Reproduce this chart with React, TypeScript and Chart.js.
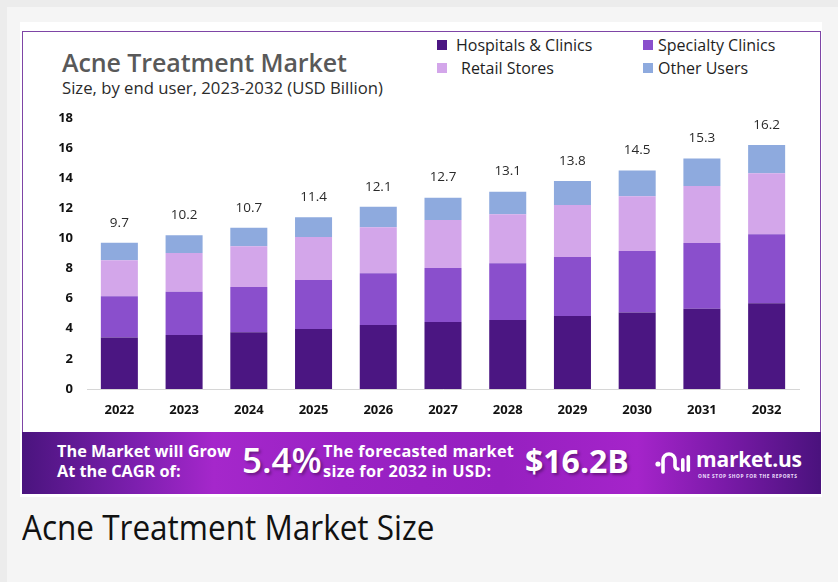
import React, { useEffect, useRef } from "react";
import { Chart, registerables } from "chart.js";
Chart.register(...registerables);

const years = ["2022", "2023", "2024", "2025", "2026", "2027", "2028", "2029", "2030", "2031", "2032"];
const hospitals = [3.41, 3.58, 3.76, 3.98, 4.25, 4.45, 4.58, 4.85, 5.07, 5.33, 5.69];
const specialty = [2.74, 2.88, 3.01, 3.26, 3.43, 3.58, 3.77, 3.91, 4.09, 4.36, 4.58];
const retail = [2.4, 2.57, 2.7, 2.85, 3.05, 3.19, 3.25, 3.46, 3.63, 3.79, 4.05];
const other = [1.15, 1.17, 1.23, 1.31, 1.37, 1.48, 1.5, 1.58, 1.71, 1.82, 1.88];
const totals = ["9.7", "10.2", "10.7", "11.4", "12.1", "12.7", "13.1", "13.8", "14.5", "15.3", "16.2"];
const seriesNames = ["Hospitals & Clinics", "Specialty Clinics", "Retail Stores", "Other Users"];
const seriesColors = ["#4b1682", "#8a4fcc", "#d3a6ea", "#8eaade"];
const yMin = 0;
const yMax = 18;
const yStep = 2;

const totalsPlugin = {
  id: "totals",
  afterDatasetsDraw(chart: any) {
    const ctx = chart.ctx;
    const last = chart.getDatasetMeta(chart.data.datasets.length - 1);
    ctx.save();
    ctx.font = "400 13.5px 'Open Sans'";
    ctx.fillStyle = "#2a2a2a";
    ctx.textAlign = "center";
    ctx.textBaseline = "middle";
    last.data.forEach((bar: any, i: number) => {
      ctx.fillText(totals[i], bar.x, bar.y - 20);
    });
    ctx.restore();
  },
};

function BarChart() {
  const ref = useRef<HTMLCanvasElement | null>(null);
  useEffect(() => {
    if (!ref.current) return;
    const data = [hospitals, specialty, retail, other];
    const chart = new Chart(ref.current, {
      type: "bar",
      data: {
        labels: years,
        datasets: data.map((d, i) => ({
          label: seriesNames[i],
          data: d,
          backgroundColor: seriesColors[i],
          borderWidth: 0,
          categoryPercentage: 1,
          barPercentage: 0.572,
        })),
      },
      options: {
        animation: false,
        responsive: false,
        maintainAspectRatio: false,
        layout: { padding: { top: 13, right: 22, left: 0, bottom: 0 } },
        plugins: { legend: { display: false }, tooltip: { enabled: false } },
        scales: {
          x: {
            stacked: true,
            grid: { display: false, drawTicks: false },
            border: { display: true, color: "#d6d6d6", width: 1 },
            ticks: { color: "#111", font: { family: "'Open Sans'", weight: "bold", size: 13 }, padding: 13 },
            afterFit: (s: any) => { s.height = 41; },
          },
          y: {
            stacked: true,
            min: yMin,
            max: yMax,
            grid: { display: false, drawTicks: false },
            border: { display: false },
            ticks: { stepSize: yStep, color: "#111", font: { family: "'Open Sans'", weight: "bold", size: 13 }, padding: 14 },
            afterFit: (s: any) => { s.width = 65; },
          },
        },
      },
      plugins: [totalsPlugin],
    });
    return () => chart.destroy();
  }, []);
  return <canvas ref={ref} width={799} height={334} style={{ position: "absolute", left: 22, top: 96, width: 799, height: 334 }} />;
}

const abs = (o: any) => ({ position: "absolute" as const, ...o });

export default function App() {
  const legendItems = [
    { x: 437, y: 45, tx: 456 },
    { x: 643, y: 45, tx: 658 },
    { x: 437, y: 68, tx: 461 },
    { x: 643, y: 68, tx: 658 },
  ];
  return (
    <div style={abs({ left: 0, top: 0, width: 838, height: 582, background: "#ececec", overflow: "hidden", fontFamily: "'Open Sans', sans-serif" })}>
      <div style={abs({ left: 7, top: 7, width: 831, height: 575, background: "#f5f5f5" })} />
      <div style={abs({ left: 20, top: 22, width: 802, height: 475, background: "#ffffff" })} />
      <div style={abs({ left: 22, top: 31, width: 799, height: 401, border: "1.5px solid #7e45a6", borderBottom: "none", boxSizing: "border-box" })} />
      <div style={abs({ left: 62, top: 46, fontSize: 25, fontWeight: 600, color: "#595959", lineHeight: "32px", whiteSpace: "nowrap", letterSpacing: "-0.1px" })}>Acne Treatment Market</div>
      <div style={abs({ left: 62, top: 77, fontSize: 16.7, fontWeight: 400, color: "#2b2b2b", lineHeight: "22px", whiteSpace: "nowrap" })}>Size, by end user, 2023-2032 (USD Billion)</div>
      {legendItems.map((it, i) => (
        <React.Fragment key={i}>
          <div style={abs({ left: it.x, top: it.y - 5, width: 10, height: 10, background: seriesColors[i] })} />
          <div style={abs({ left: it.tx, top: it.y - 12, fontSize: 16, color: "#1e1e1e", lineHeight: "24px", whiteSpace: "nowrap" })}>{seriesNames[i]}</div>
        </React.Fragment>
      ))}
      <BarChart />
      <div style={abs({ left: 22, top: 432, width: 799, height: 62, background: "linear-gradient(90deg, #4a147e 0%, #7c1fae 14%, #a527cb 24%, #9a22c4 40%, #9620c0 60%, #a524ca 77%, #7a1aa8 88%, #4a127d 100%)" })} />
      <div style={abs({ left: 57, top: 441, fontSize: 16.3, fontWeight: 700, color: "#fff", lineHeight: "20px", whiteSpace: "nowrap" })}>The Market will Grow<br />At the CAGR of:</div>
      <div style={abs({ left: 242, top: 437, fontSize: 35, fontWeight: 600, color: "#fff", lineHeight: "46px", whiteSpace: "nowrap", textShadow: "2px 2px 3px rgba(0,0,0,0.35)" })}>5.4%</div>
      <div style={abs({ left: 323, top: 441, fontSize: 16.3, fontWeight: 700, color: "#fff", lineHeight: "20px", whiteSpace: "nowrap", letterSpacing: "0.3px" })}>The forecasted market<br />size for 2032 in USD:</div>
      <div style={abs({ left: 525, top: 438, fontSize: 32, fontWeight: 700, color: "#fff", lineHeight: "46px", whiteSpace: "nowrap", textShadow: "2px 2px 3px rgba(0,0,0,0.35)" })}>$16.2B</div>
      <svg style={abs({ left: 655, top: 450, width: 36, height: 26 })} viewBox="0 0 36 26">
        <circle cx="3" cy="14" r="2.6" fill="#fff" />
        <path d="M8 22 V10 a6 6 0 0 1 12 0 V16 a3 3 0 0 0 3 3" stroke="#fff" strokeWidth="3.6" fill="none" strokeLinecap="round" />
        <rect x="26" y="8" width="3.6" height="14" rx="1.8" fill="#fff" />
        <rect x="31.5" y="5" width="3.6" height="17" rx="1.8" fill="#fff" />
      </svg>
      <div style={abs({ left: 696, top: 446, fontSize: 21, fontWeight: 700, color: "#fff", lineHeight: "26px", whiteSpace: "nowrap", letterSpacing: "-0.2px" })}>market.us</div>
      <div style={abs({ left: 698, top: 473, fontSize: 4.8, fontWeight: 700, color: "#f0e0ff", lineHeight: "6px", whiteSpace: "nowrap", letterSpacing: "0.6px" })}>ONE STOP SHOP FOR THE REPORTS</div>
      <div style={abs({ left: 22, top: 504, fontSize: 35, fontWeight: 400, color: "#111", lineHeight: "46px", whiteSpace: "nowrap", transform: "scaleX(0.9)", transformOrigin: "left center" })}>Acne Treatment Market Size</div>
    </div>
  );
}
